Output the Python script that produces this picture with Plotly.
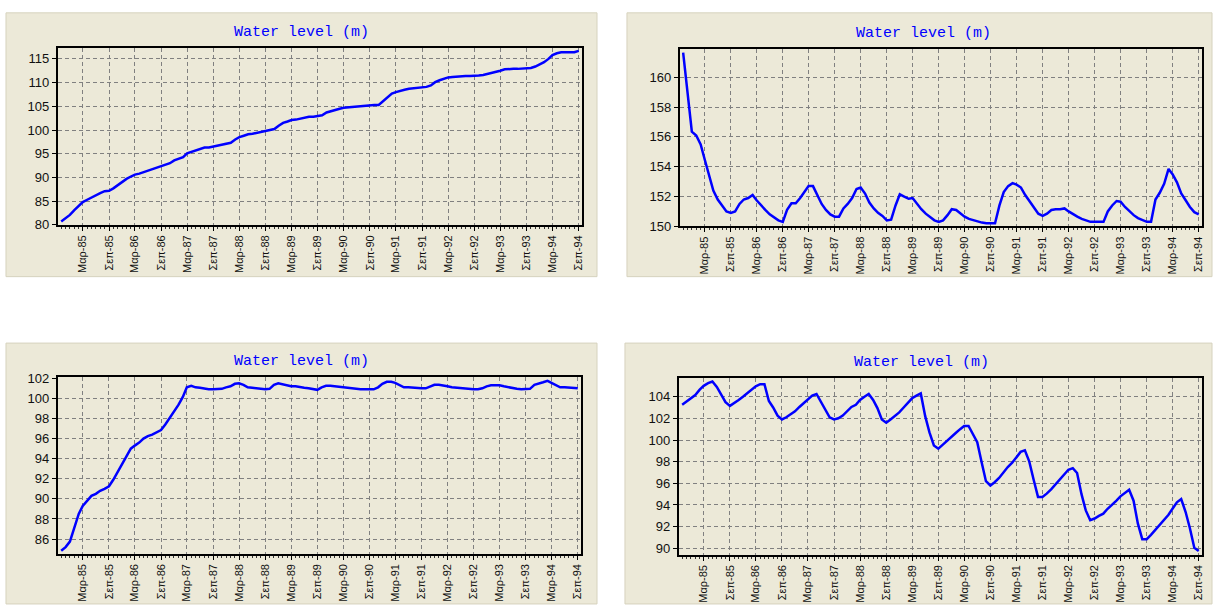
import pandas as pd
import plotly.graph_objects as go

# ---- data: monthly water levels, Oct 1984 - Sep 1994 ----
months = pd.date_range("1984-10-01", "1994-09-01", freq="MS")

level_a = [
    80.7, 81.4, 82.1, 83.1, 84.0, 84.8, 85.3, 85.8, 86.3, 86.7, 87.1, 87.2,
    87.7, 88.4, 89.1, 89.7, 90.2, 90.6, 90.8, 91.1, 91.5, 91.7, 92.1, 92.4,
    92.6, 93.0, 93.6, 94.0, 94.3, 95.1, 95.4, 95.7, 96.1, 96.3, 96.3, 96.5,
    96.7, 96.9, 97.2, 97.3, 98.0, 98.5, 98.8, 99.1, 99.2, 99.4, 99.6, 99.8,
    99.9, 100.2, 100.9, 101.5, 101.8, 102.1, 102.2, 102.4, 102.6, 102.8, 102.8, 103.0,
    103.1, 103.7, 104.0, 104.3, 104.5, 104.7, 104.8, 104.9, 105.0, 105.1, 105.2, 105.2,
    105.3, 105.3, 106.1, 106.9, 107.7, 108.0, 108.3, 108.5, 108.7, 108.8, 108.8, 109.0,
    109.1, 109.4, 110.1, 110.5, 110.8, 111.1, 111.2, 111.3, 111.4, 111.4, 111.4, 111.4,
    111.5, 111.6, 111.8, 112.1, 112.3, 112.5, 112.8, 112.9, 112.9, 112.9, 113.0, 113.1,
    113.1, 113.4, 113.8, 114.3, 115.0, 115.8, 116.2, 116.4, 116.4, 116.4, 116.4, 116.7,
]

level_b = [
    161.65, 159.0, 156.35, 156.1, 155.5, 154.5, 153.4, 152.4, 151.8, 151.4, 151.0, 150.9,
    151.0, 151.5, 151.8, 151.9, 152.1, 151.75, 151.4, 151.1, 150.8, 150.6, 150.4, 150.3,
    151.1, 151.55, 151.55, 151.9, 152.3, 152.7, 152.7, 152.1, 151.5, 151.1, 150.8, 150.65,
    150.65, 151.2, 151.5, 151.9, 152.5, 152.6, 152.2, 151.6, 151.2, 150.9, 150.7, 150.4,
    150.45, 151.4, 152.15, 152.0, 151.85, 151.9, 151.5, 151.15, 150.85, 150.6, 150.4, 150.3,
    150.4, 150.75, 151.15, 151.1, 150.85, 150.65, 150.5, 150.4, 150.3, 150.25, 150.2, 150.2,
    150.2, 151.4, 152.3, 152.7, 152.9, 152.8, 152.6, 152.1, 151.65, 151.25, 150.85, 150.7,
    150.85, 151.1, 151.15, 151.15, 151.2, 151.0, 150.8, 150.65, 150.5, 150.4, 150.3, 150.3,
    150.3, 150.3, 151.0, 151.4, 151.7, 151.65, 151.3, 151.0, 150.75, 150.55, 150.45, 150.3,
    150.3, 151.8, 152.25, 152.85, 153.85, 153.5, 152.95, 152.2, 151.75, 151.3, 150.95, 150.8,
]

level_c = [
    84.83, 85.2, 85.75, 87.25, 88.5, 89.3, 89.8, 90.3, 90.5, 90.8, 91.0, 91.25,
    91.9, 92.7, 93.5, 94.3, 95.0, 95.3, 95.6, 96.0, 96.25, 96.4, 96.6, 96.85,
    97.4, 98.05, 98.6, 99.35, 100.15, 101.1, 101.25, 101.1, 101.05, 100.95, 100.9, 100.9,
    100.9, 100.95, 101.1, 101.2, 101.45, 101.5, 101.35, 101.1, 101.05, 101.0, 100.9, 100.9,
    100.95, 101.35, 101.5, 101.4, 101.35, 101.2, 101.2, 101.1, 101.05, 101.0, 100.95, 100.85,
    101.1, 101.25, 101.25, 101.2, 101.1, 101.05, 101.0, 100.95, 100.9, 100.9, 100.9, 100.9,
    100.9, 101.1, 101.45, 101.65, 101.65, 101.55, 101.35, 101.1, 101.1, 101.05, 101.0, 101.0,
    101.0, 101.2, 101.35, 101.35, 101.3, 101.2, 101.1, 101.05, 101.0, 100.95, 100.9, 100.9,
    100.9, 101.0, 101.2, 101.3, 101.3, 101.3, 101.2, 101.1, 101.05, 100.95, 100.9, 100.9,
    100.95, 101.35, 101.45, 101.6, 101.75, 101.55, 101.3, 101.1, 101.1, 101.05, 101.0, 101.0,
]

level_d = [
    103.25, 103.55, 103.8, 104.15, 104.65, 105.0, 105.25, 105.4, 104.9, 104.15, 103.5, 103.15,
    103.4, 103.7, 104.0, 104.3, 104.6, 104.95, 105.15, 105.15, 103.6, 103.0, 102.25, 101.9,
    102.1, 102.35, 102.65, 103.05, 103.4, 103.75, 104.1, 104.25, 103.55, 102.75, 102.1, 101.9,
    102.0, 102.25, 102.65, 103.05, 103.25, 103.7, 104.0, 104.25, 103.7, 102.95, 101.9, 101.6,
    101.9, 102.25, 102.55, 103.0, 103.4, 103.85, 104.1, 104.3, 102.2, 100.7, 99.5, 99.2,
    99.55, 99.95, 100.25, 100.65, 101.0, 101.3, 101.3, 100.55, 99.8, 98.0, 96.2, 95.8,
    96.1, 96.5, 97.0, 97.5, 97.9, 98.4, 98.9, 99.05, 98.0, 96.35, 94.75, 94.75,
    95.05, 95.45, 95.9, 96.45, 96.85, 97.25, 97.4, 96.95, 95.0, 93.5, 92.6, 92.75,
    93.0, 93.2, 93.65, 94.0, 94.4, 94.8, 95.15, 95.4, 94.4, 92.3, 90.85, 90.85,
    91.25, 91.7, 92.15, 92.6, 93.1, 93.65, 94.25, 94.55, 93.35, 91.85, 90.05, 89.75,
]

tick_dates = pd.date_range("1985-03-01", "1994-09-01", freq="6MS")
tick_labels = [
    "Μαρ-85", "Σεπ-85", "Μαρ-86", "Σεπ-86", "Μαρ-87", "Σεπ-87", "Μαρ-88",
    "Σεπ-88", "Μαρ-89", "Σεπ-89", "Μαρ-90", "Σεπ-90", "Μαρ-91", "Σεπ-91",
    "Μαρ-92", "Σεπ-92", "Μαρ-93", "Σεπ-93", "Μαρ-94", "Σεπ-94",
][: len(tick_dates)]

yticks_a = [80, 85, 90, 95, 100, 105, 110, 115]
yticks_b = [150, 152, 154, 156, 158, 160]
yticks_c = [86, 88, 90, 92, 94, 96, 98, 100, 102]
yticks_d = [90, 92, 94, 96, 98, 100, 102, 104]

title_text = "Water level (m)"

# ---- layout helpers (pixel -> paper) ----
W, H = 1214, 610
BEIGE = "#ECE9D8"


def fx(px):
    return px / W


def fy(py):
    return 1 - py / H


panels = [
    dict(series=level_a, ticks=yticks_a, yr=[80, 117.3],
         box=(58, 583, 43, 224), bg=(6, 598, 7, 277), title=(302, 27)),
    dict(series=level_b, ticks=yticks_b, yr=[150, 161.9],
         box=(681, 1204, 44, 225.5), bg=(628, 1214, 7, 277), title=(925, 28)),
    dict(series=level_c, ticks=yticks_c, yr=[84.55, 102.1],
         box=(58, 582, 380, 560.5), bg=(6, 598, 345, 612), title=(302, 364)),
    dict(series=level_d, ticks=yticks_d, yr=[89.42, 105.7],
         box=(680, 1204, 381, 561.5), bg=(626, 1214, 345, 612), title=(923, 365)),
]

x_range = ["1984-09-08", "1994-09-24"]

fig = go.Figure()
layout = dict(
    width=W, height=H,
    margin=dict(l=0, r=0, t=0, b=0),
    paper_bgcolor="white",
    plot_bgcolor=BEIGE,
    showlegend=False,
    shapes=[], annotations=[],
)

axis_font = dict(family="Liberation Sans, Arial, sans-serif", color="#111111")

for i, p in enumerate(panels, start=1):
    xa = "x" if i == 1 else f"x{i}"
    ya = "y" if i == 1 else f"y{i}"
    x0, x1, y0, y1 = p["box"]

    fig.add_trace(go.Scatter(
        x=months, y=p["series"], xaxis=xa, yaxis=ya, mode="lines",
        line=dict(color="#0000FF", width=2.5), hoverinfo="x+y",
    ))

    layout["xaxis" if i == 1 else f"xaxis{i}"] = dict(
        domain=[fx(x0), fx(x1)], anchor=ya, type="date", range=x_range,
        tickmode="array", tickvals=tick_dates, ticktext=tick_labels,
        tickangle=-90, tickfont=dict(size=11, **axis_font),
        ticks="outside", ticklen=4, tickcolor="black",
        minor=dict(ticks="outside", ticklen=2, tickcolor="#333333",
                   dtick="M1", tick0="1984-10-01", showgrid=False),
        showgrid=True, gridcolor="#808080", gridwidth=1, griddash="4px,3px",
        showline=True, linecolor="black", linewidth=2, mirror=True,
        zeroline=False, fixedrange=True,
    )
    layout["yaxis" if i == 1 else f"yaxis{i}"] = dict(
        domain=[fy(y1), fy(y0)], anchor=xa, range=p["yr"],
        tickmode="array", tickvals=p["ticks"],
        tickfont=dict(size=13, **axis_font),
        ticks="outside", ticklen=4, tickcolor="black",
        showgrid=True, gridcolor="#808080", gridwidth=1, griddash="4px,3px",
        showline=True, linecolor="black", linewidth=2, mirror=True,
        zeroline=False, fixedrange=True,
    )

    bx0, bx1, by0, by1 = p["bg"]
    layout["shapes"].append(dict(
        type="rect", xref="paper", yref="paper", layer="below",
        x0=fx(bx0), x1=fx(bx1), y0=fy(by1), y1=fy(by0),
        fillcolor=BEIGE, line=dict(color="#D6D2BE", width=1),
    ))

    tx, ty = p["title"]
    layout["annotations"].append(dict(
        text=title_text, xref="paper", yref="paper",
        x=fx(tx), y=fy(ty), xanchor="center", yanchor="middle",
        showarrow=False,
        font=dict(family="Liberation Mono, Courier New, monospace",
                  size=15, color="#0000FF"),
    ))

fig.update_layout(**layout)
fig.write_html("out.html")
